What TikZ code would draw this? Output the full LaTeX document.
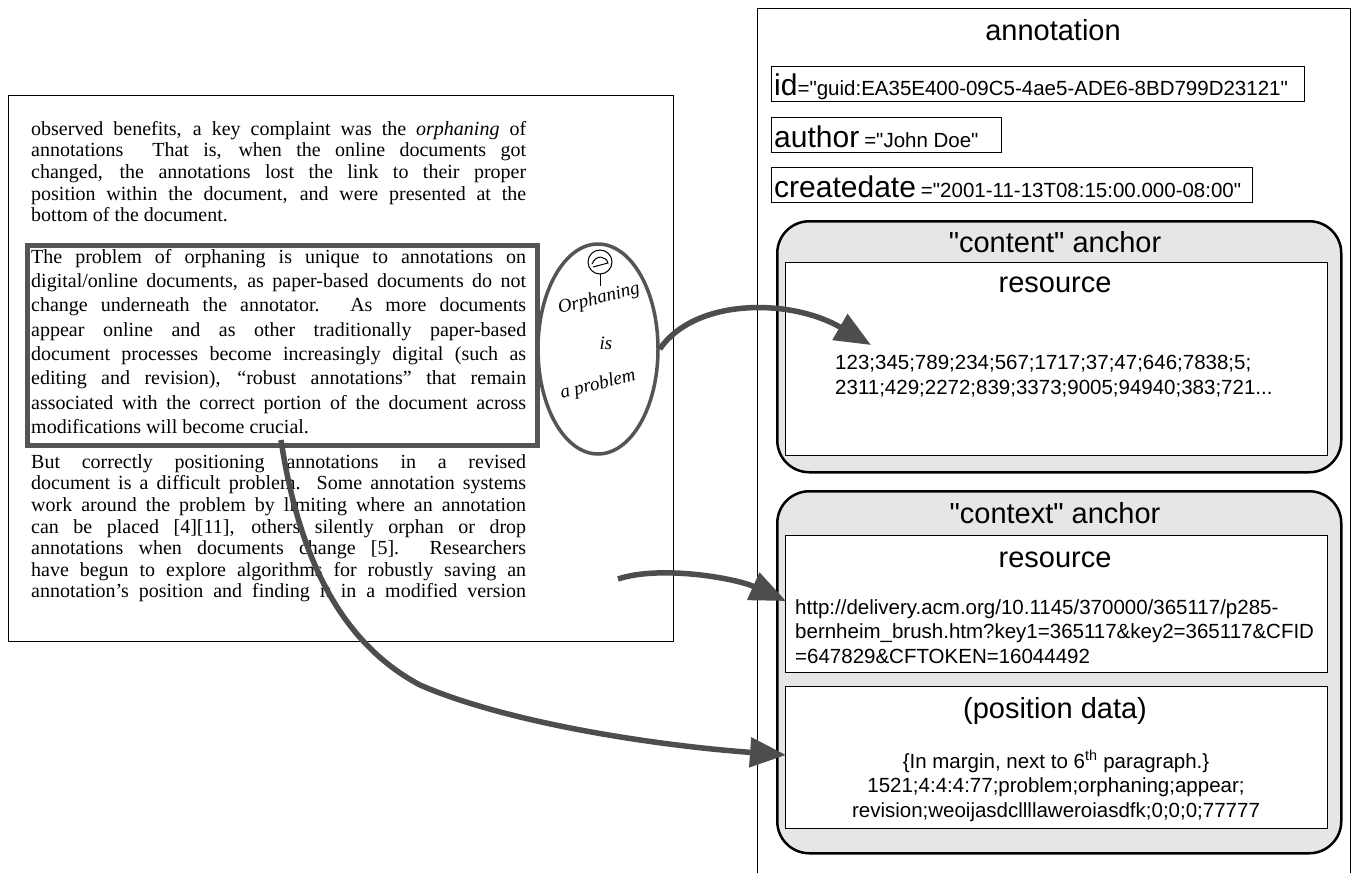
\documentclass[tikz,border=0pt]{standalone}
\usepackage{fontspec}
\setmainfont{Liberation Serif}
\newfontfamily\rsans{Liberation Sans}
\usetikzlibrary{arrows.meta,shapes.geometric}
\definecolor{arrowgray}{HTML}{4D4D4D}
\definecolor{anchorfill}{HTML}{E6E6E6}
\definecolor{hlgray}{HTML}{555555}
\newcommand{\jline}[1]{\makebox[495pt][s]{#1}}
\newcommand{\labf}{\rsans\fontsize{30}{32}\selectfont}
\newcommand{\valf}{\rsans\fontsize{20.5}{24}\selectfont}
\newcommand{\docfont}{\fontsize{20}{21.6}\selectfont\lineskiplimit=-30pt\relax}
\newcommand{\docfonttwo}{\fontsize{20}{24.3}\selectfont\lineskiplimit=-30pt\relax}
\newcommand{\smallfont}{\rsans\fontsize{20.5}{24.5}\selectfont\lineskiplimit=-30pt\relax}
\begin{document}
\begin{tikzpicture}[x=1pt,y=-1pt,
  plainbox/.style={draw, line width=1pt, inner sep=0pt, anchor=north west},
  doctext/.style={anchor=north west, inner sep=0pt, align=left, font=\docfont},
  ptwotext/.style={anchor=north west, inner sep=0pt, align=left, font=\docfonttwo},
  field/.style={draw, line width=1.2pt, inner sep=0pt, anchor=north west, minimum height=35pt},
  anchorbox/.style={draw, line width=2.5pt, fill=anchorfill, rounded corners=32pt, inner sep=0pt, anchor=north west},
  innerbox/.style={draw, line width=1.2pt, fill=white, inner sep=0pt, anchor=north west},
  heading/.style={font=\rsans\fontsize{29}{30}\selectfont, inner sep=0pt, anchor=base},
  small/.style={font=\smallfont, inner sep=0pt},
  hand/.style={font=\rmfamily\itshape\fontsize{19}{19}\selectfont, inner sep=0pt},
  bigarrow/.style={draw=arrowgray, line width=5.5pt, -{Triangle[length=36pt,width=29pt]}}
]
\useasboundingbox (0,0) rectangle (1356,872);
\fill[white] (0,0) rectangle (1356,872);

% ---------- document excerpt ----------
\node[plainbox, minimum width=665pt, minimum height=546pt] (doc) at (8,95) {};
\node[draw=hlgray, line width=5pt, inner sep=0pt, anchor=north west,
      minimum width=510pt, minimum height=200pt] (hl) at (25,243) {};

\node[doctext] (pone) at (31,120) {%
\jline{\rule{0pt}{15pt}observed benefits, a key complaint was the \textit{orphaning} of}\\
\jline{annotations\ \ That is, when the online documents got}\\
\jline{changed, the annotations lost the link to their proper}\\
\jline{position within the document, and were presented at the}\\
bottom of the document.};

\node[ptwotext] (ptwo) at (31,248) {%
\jline{\rule{0pt}{15pt}The problem of orphaning is unique to annotations on}\\
\jline{digital/online documents, as paper-based documents do not}\\
\jline{change underneath the annotator. As more documents}\\
\jline{appear online and as other traditionally paper-based}\\
\jline{document processes become increasingly digital (such as}\\
\jline{editing and revision), ``robust annotations'' that remain}\\
\jline{associated with the correct portion of the document across}\\
modifications will become crucial.};

\node[doctext] (pthree) at (31,453) {%
\jline{\rule{0pt}{15pt}But correctly positioning annotations in a revised}\\
\jline{document is a difficult problem. Some annotation systems}\\
\jline{work around the problem by limiting where an annotation}\\
\jline{can be placed [4][11], others silently orphan or drop}\\
\jline{annotations when documents change [5].\ \ Researchers}\\
\jline{have begun to explore algorithms for robustly saving an}\\
\jline{annotation's position and finding it in a modified version}};

% ---------- handwritten margin note ----------
\node[draw=hlgray, line width=3.5pt, ellipse, inner sep=0pt,
      minimum width=120pt, minimum height=210pt] (ell) at (598,349) {};
\draw[line width=1pt] (600,262) circle (12pt);
\draw[line width=1pt] (592,264) .. controls (596,254) and (606,256) .. (608,263) -- (593,267);
\draw[line width=1pt] (600,274) -- (600,286);
\node[hand, rotate=14] (hwone) at (599,299) {Orphaning};
\node[hand] (hwtwo) at (606,343) {is};
\node[hand, rotate=14] (hwthree) at (598,385) {a problem};

% ---------- annotation record ----------
\node[plainbox, minimum width=593pt, minimum height=880pt] (ann) at (757,8) {};
\node[heading] (anntitle) at (1053,41) {annotation};

\node[field, minimum width=533pt] (idbox) at (771,66) {};
\node[anchor=base west, inner sep=0pt] (idtxt) at (774,96) {\labf id\valf="guid:EA35E400-09C5-4ae5-ADE6-8BD799D23121"};
\node[field, minimum width=230pt] (authorbox) at (771,117) {};
\node[anchor=base west, inner sep=0pt] (authortxt) at (774,147) {\labf author\,\valf="John Doe"};
\node[field, minimum width=481pt] (datebox) at (771,167) {};
\node[anchor=base west, inner sep=0pt] (datetxt) at (774,197) {\labf createdate\,\valf="2001-11-13T08:15:00.000-08:00"};

% content anchor
\node[anchorbox, minimum width=564pt, minimum height=251pt] (canchor) at (776,220) {};
\node[heading] (ctitle) at (1055,252) {"content" anchor};
\node[innerbox, minimum width=542pt, minimum height=193pt] (cres) at (785,262) {};
\node[heading] (crestitle) at (1055,292) {resource};
\node[small, anchor=north west, align=left] (cnums) at (835,355) {%
\rule{0pt}{14pt}123;345;789;234;567;1717;37;47;646;7838;5;\\
2311;429;2272;839;3373;9005;94940;383;721...};

% context anchor
\node[anchorbox, minimum width=564pt, minimum height=362pt] (xanchor) at (776,490) {};
\node[heading] (xtitle) at (1055,523) {"context" anchor};
\node[innerbox, minimum width=542pt, minimum height=137pt] (xres) at (785,535) {};
\node[heading] (xrestitle) at (1055,567) {resource};
\node[small, anchor=north west, align=left] (url) at (795,599) {%
\rule{0pt}{14pt}http://delivery.acm.org/10.1145/370000/365117/p285-\\
bernheim\_brush.htm?key1=365117\&key2=365117\&CFID\\
=647829\&CFTOKEN=16044492};
\node[innerbox, minimum width=542pt, minimum height=142pt] (pos) at (785,686) {};
\node[heading] (postitle) at (1055,718) {(position data)};
\node[small, anchor=north, align=center] (posdata) at (1056,750) {%
\rule{0pt}{14pt}\{In margin, next to 6\textsuperscript{th} paragraph.\}\\
1521;4:4:4:77;problem;orphaning;appear;\\
revision;weoijasdcllllaweroiasdfk;0;0;0;77777};

% ---------- arrows ----------
\coordinate (tipone) at (871,345);
\coordinate (starttwo) at (618,579);
\coordinate (tiptwo) at (786,601);
\coordinate (startthree) at (281,440);
\coordinate (midthree) at (420,685);
\coordinate (tipthree) at (786,755);
\draw[bigarrow] (ell.east) .. controls (695,298) and (790,298) .. (tipone);
\draw[bigarrow] (starttwo) .. controls (660,565) and (735,578) .. (tiptwo);
\draw[bigarrow] (startthree) .. controls (300,565) and (345,645) .. (midthree)
   .. controls (505,722) and (650,745) .. (tipthree);
\end{tikzpicture}
\end{document}
